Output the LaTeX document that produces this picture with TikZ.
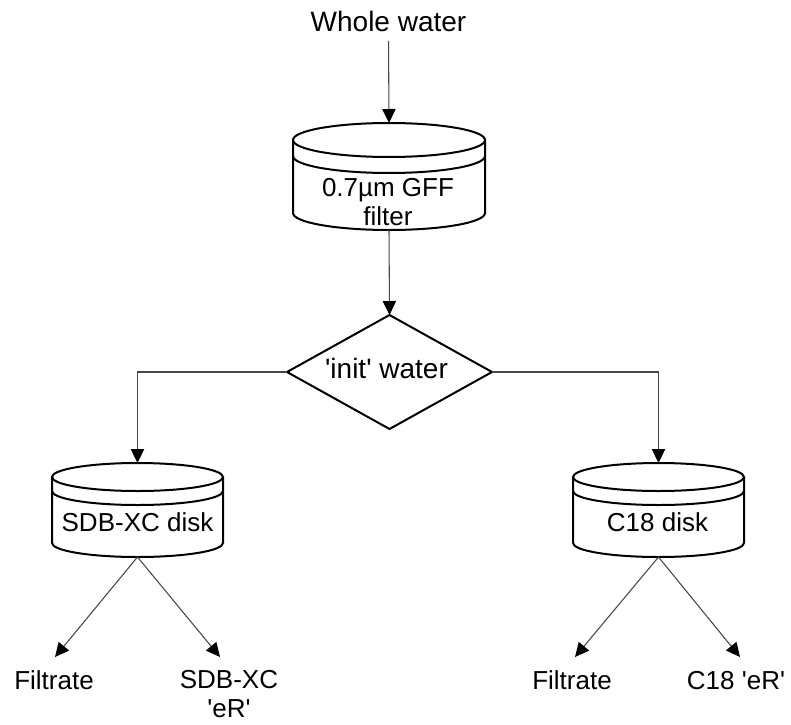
\documentclass[tikz,border=0pt]{standalone}
\usepackage{fontspec}
\setmainfont{Liberation Sans}[Ligatures=TeXOff]
\usetikzlibrary{arrows.meta,shapes.geometric}

% one drawing unit = one pixel = 0.75pt; y values are written negated (downwards)
\def\u{0.75pt}

\tikzset{
  outline/.style={draw=black, line width=1.5pt},
  link/.style={draw=black!72, line width=0.8pt,
    -{Triangle[length=10.5pt,width=10pt,color=black]}},
  label/.style={font=\fontsize{19.5}{21.4}\selectfont, align=center, text=black},
  biglabel/.style={label, font=\fontsize{21}{23}\selectfont},
  holder/.style={rectangle, draw=none, inner sep=0pt, outer sep=0pt},
}

% filter disk: name, centre x, top y, half width, height, ellipse ry, ring gap
\newcommand\filterdisk[7]{%
  \node[holder, minimum width={2*#4*\u}, minimum height={#5*\u}]
    (#1) at (#2,{-(#3+#5/2)}) {};
  \draw[outline] ({#2-#4},{-(#3+#6)}) -- ({#2-#4},{-(#3+#5-#6)})
    arc[start angle=180, end angle=360, x radius=#4, y radius=#6]
    -- ({#2+#4},{-(#3+#6)});
  \draw[outline] (#2,{-(#3+#6)}) ellipse[x radius=#4, y radius=#6];
  \draw[outline] ({#2-#4},{-(#3+#6+#7)})
    arc[start angle=180, end angle=360, x radius=#4, y radius=#6];
}

\begin{document}
\begin{tikzpicture}[x=\u, y=\u]
\useasboundingbox (0,0) rectangle (791,-724);

% source
\node[biglabel, anchor=base] (whole) at (388.5,-32) {Whole water};

% glass fibre filter
\filterdisk{gff}{389}{123}{96}{107}{17}{16}
\node[label] (gfflabel) at (388,-202) {0.7µm GFF\\filter};

% split point
\node[diamond, draw=black, line width=1.5pt, inner sep=0pt, outer sep=0pt,
      aspect=1.79, minimum width={205*\u}, minimum height={114*\u}]
  (init) at (389.5,-372) {};
\node[biglabel, anchor=base] (initlabel) at (386.5,-378) {'init' water};

% extraction disks
\filterdisk{sdb}{137.5}{463}{85.5}{94}{14}{14}
\node[label, anchor=base] (sdblabel) at (137.5,-531) {SDB-XC disk};
\filterdisk{cee}{658.5}{463}{85.5}{94}{14}{14}
\node[label, anchor=base] (ceelabel) at (657.5,-531) {C18 disk};

% outputs
\node[label, anchor=base] (filtA) at (54,-689) {Filtrate};
\node[label, anchor=base] (erA) at (229,-717) {SDB-XC\\'eR'};
\node[label, anchor=base] (filtB) at (572,-689) {Filtrate};
\node[label, anchor=base] (erB) at (736,-689) {C18 'eR'};

\coordinate (tipFA) at (55,-657);
\coordinate (tipEA) at (220,-657);
\coordinate (tipFB) at (575,-657);
\coordinate (tipEB) at (740,-657);

% connectors
\draw[link, shorten <=3pt] (whole.south) -- (gff.north);
\draw[link] (gff.south) -- (init.north);
\draw[link] (init.west) -| (sdb.north);
\draw[link] (init.east) -| (cee.north);
\draw[link] (sdb.south) -- (tipFA);
\draw[link] (sdb.south) -- (tipEA);
\draw[link] (cee.south) -- (tipFB);
\draw[link] (cee.south) -- (tipEB);
\end{tikzpicture}
\end{document}
